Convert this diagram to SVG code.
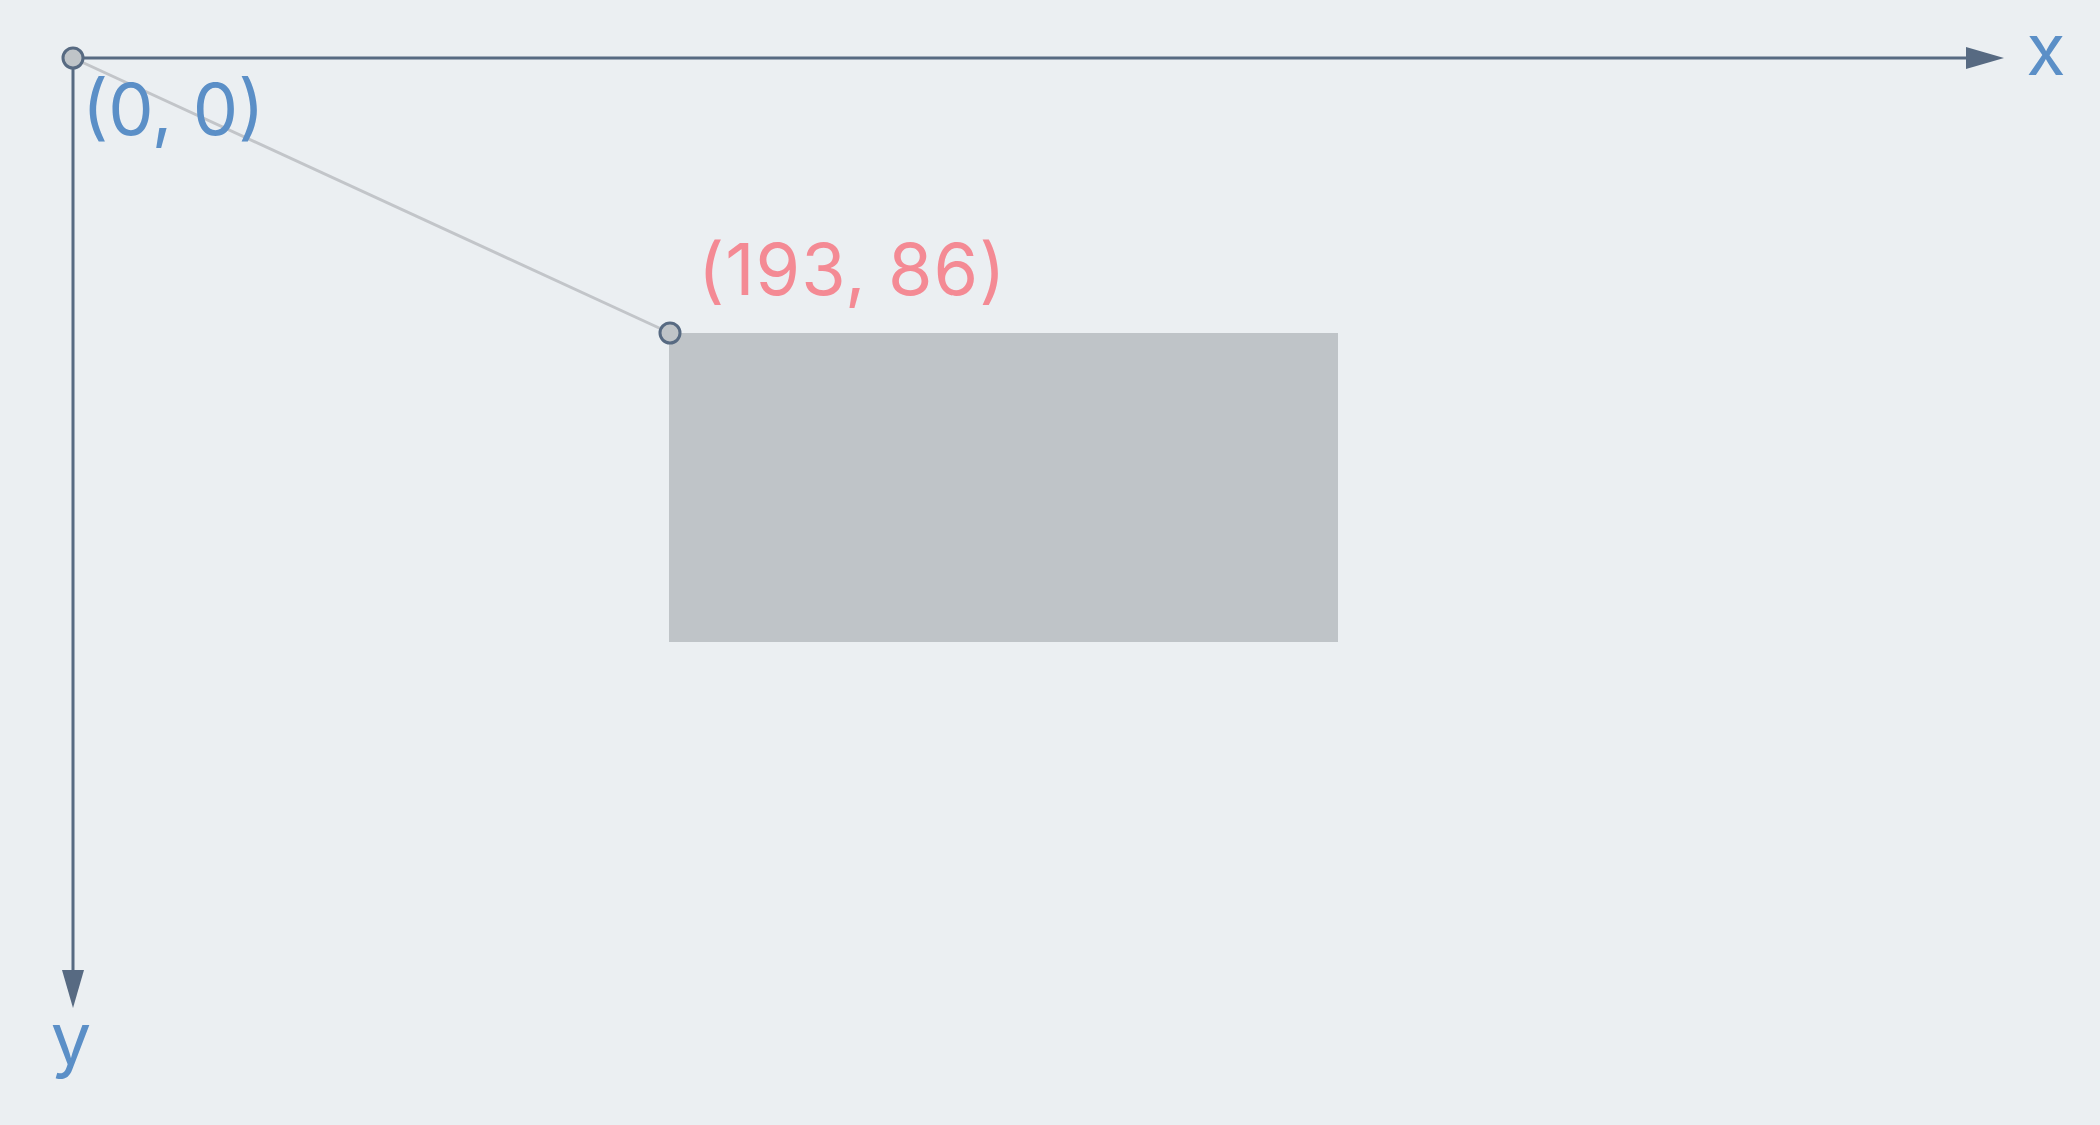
<svg xmlns="http://www.w3.org/2000/svg" width="2100" height="1125" viewBox="0 0 2100 1125">
<style>
.axis{stroke:#576a82;stroke-width:3;fill:none}
.guide{stroke:#c2c5c9;stroke-width:3;fill:none}
.pt{fill:#bfc4c8;stroke:#576a82;stroke-width:3}
.lbl{font-family:Inter,"Noto Sans",sans-serif;font-size:72px}
.blue{fill:#5b8fc7}
.pink{fill:#f48a94}
</style>
<defs>
<marker id="arr" viewBox="0 0 38 22" refX="4" refY="11" markerWidth="38" markerHeight="22" markerUnits="userSpaceOnUse" orient="auto">
<path d="M0,0 L38,11 L0,22 Z" fill="#576a82"/>
</marker>
</defs>
<rect width="2100" height="1125" fill="#ebeff2"/>
<g id="connectors">
<line class="guide" x1="73" y1="58" x2="670" y2="333"/>
<line id="x-axis" class="axis" x1="73" y1="58" x2="1970" y2="58" marker-end="url(#arr)"/>
<line id="y-axis" class="axis" x1="73" y1="58" x2="73" y2="974" marker-end="url(#arr)"/>
</g>
<g id="rect-node">
<rect x="669" y="333" width="669" height="309" fill="#bfc4c8"/>
</g>
<g id="origin">
<circle class="pt" cx="73" cy="58" r="10"/>
<text class="lbl blue" x="82" y="135">(0, 0)</text>
</g>
<g id="point">
<circle class="pt" cx="670" cy="333" r="10"/>
<text class="lbl pink" x="698" y="295" font-size="73" letter-spacing="1">(193, 86)</text>
</g>
<g id="x-label"><text class="lbl blue" x="2046" y="75" text-anchor="middle">x</text></g>
<g id="y-label"><text class="lbl blue" x="71" y="1064" text-anchor="middle">y</text></g>
</svg>
